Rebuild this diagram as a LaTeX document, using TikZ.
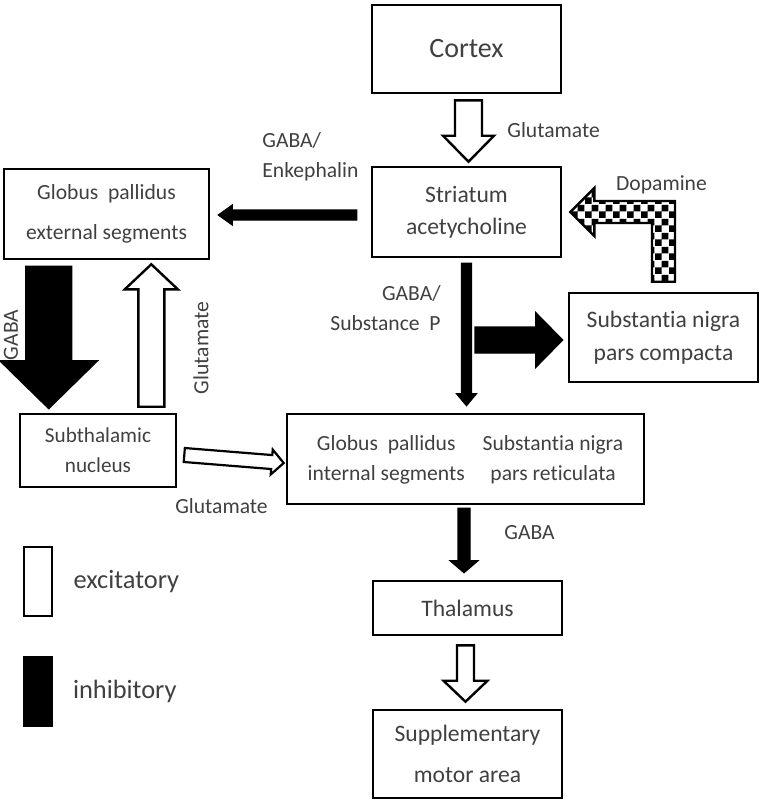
\documentclass[tikz,border=0pt]{standalone}
\usepackage{fontspec}
\setmainfont{Carlito}[Ligatures=NoCommon]
\usepackage{tikz}
\usetikzlibrary{calc,positioning,patterns}
\definecolor{txt}{RGB}{64,64,64}
\pgfdeclarepatternformonly{dopachecks}{\pgfpointorigin}{\pgfqpoint{6.8pt}{6.8pt}}{\pgfqpoint{6.8pt}{6.8pt}}{%
  \pgfpathrectangle{\pgfpointorigin}{\pgfqpoint{3.4pt}{3.4pt}}%
  \pgfpathrectangle{\pgfqpoint{3.4pt}{3.4pt}}{\pgfqpoint{3.4pt}{3.4pt}}%
  \pgfusepath{fill}}

\begin{document}
\begin{tikzpicture}[x=0.5pt, y=-0.5pt,
  box/.style={draw, line width=1.3pt, inner sep=0pt, align=center, text=txt},
  lbl/.style={text=txt, inner sep=0pt, font=\fontsize{10.8}{15}\selectfont},
  excit/.style={draw, line width=1.2pt, fill=white, line join=miter},
  inhib/.style={draw, line width=0.6pt, fill=black, line join=miter},
  dopa/.style={draw, line width=1.2pt, pattern=dopachecks, line join=miter},
  % block arrow: shaft width, head width, head length
  blockarrow/.style n args={3}{to path={
    let \p1=(\tikztostart), \p2=(\tikztotarget), \p3=($(\p2)!#3!(\p1)$) in
    ($(\p1)!#1/2!90:(\p2)$) -- ($(\p3)!#1/2!90:(\p2)$) -- ($(\p3)!#2/2!90:(\p2)$)
    -- (\p2) -- ($(\p3)!#2/2!-90:(\p2)$) -- ($(\p3)!#1/2!-90:(\p2)$)
    -- ($(\p1)!#1/2!-90:(\p2)$) -- cycle}}]
\useasboundingbox (0,0) rectangle (760,804);

% boxes
\node[box, minimum width=94.5pt, minimum height=44pt, font=\fontsize{14}{17}\selectfont] (cortex) at (466.5,49) {Cortex};
\node[box, minimum width=94.5pt, minimum height=45pt, font=\fontsize{11.8}{16}\selectfont] (striatum) at (466.5,212) {Striatum\\acetycholine};
\node[box, minimum width=94.5pt, minimum height=44.5pt, font=\fontsize{11.8}{16.5}\selectfont] (snc) at (663.5,337.5) {Substantia nigra\\pars compacta};
\node[box, minimum width=102.5pt, minimum height=45pt, font=\fontsize{10.8}{20}\selectfont] (gpe) at (106.5,214) {Globus~ pallidus\\external segments};
\node[box, minimum width=78pt, minimum height=36.5pt, font=\fontsize{10.6}{15}\selectfont] (stn) at (98,450.5) {Subthalamic\\nucleus};
\node[box, minimum width=178.5pt, minimum height=45pt, font=\fontsize{10.8}{15}\selectfont] (gpi) at (465.5,459)
  {\raisebox{3pt}{\begin{tabular}{@{}c@{\hspace{9pt}}c@{}}Globus~ pallidus & Substantia nigra\\internal segments & pars reticulata\end{tabular}}};
\node[box, minimum width=94.5pt, minimum height=27pt, font=\fontsize{11.8}{15}\selectfont] (thal) at (467.5,608) {Thalamus};
\node[box, minimum width=94.5pt, minimum height=44pt, font=\fontsize{11.8}{20.5}\selectfont] (sma) at (467.5,754) {Supplementary\\motor area};

% pathways
\draw[excit, blockarrow={13.5pt}{25.5pt}{13pt}] ($(cortex.south)+(1pt,-3pt)$) to ($(cortex.south |- striatum.north)+(1pt,2pt)$);
\draw[inhib, blockarrow={5pt}{10pt}{7pt}] ($(striatum.west |- gpe.east)+(-7pt,-0.5pt)$) to ($(gpe.east)+(4pt,-0.5pt)$);
\draw[inhib, blockarrow={5pt}{10pt}{6pt}] ($(striatum.south)+(0pt,-2.5pt)$) to ($(striatum.south |- gpi.north)+(0pt,3.5pt)$);
\coordinate (branch) at ($(striatum.south |- snc.west)+(4.25pt,-1.25pt)$);
\draw[inhib, blockarrow={13pt}{27.5pt}{13.5pt}] (branch) to ($(snc.west |- branch)+(-2.5pt,0pt)$);
\draw[dopa] let \p1=(snc.north), \p2=(striatum.east) in
  (\x1-5.75pt,\y1+5pt) -- (\x1+5.75pt,\y1+5pt) -- (\x1+5.75pt,\y2+5.5pt) -- (\x2+16pt,\y2+5.5pt)
  -- (\x2+16pt,\y2+12pt) -- (\x2+4pt,\y2) -- (\x2+16pt,\y2-12pt) -- (\x2+16pt,\y2-5.5pt)
  -- (\x1-5.75pt,\y2-5.5pt) -- cycle;
\draw[inhib, blockarrow={23pt}{49pt}{24pt}] ($(gpe.south west)+(23pt,-3pt)$) to ($(gpe.south west |- stn.north)+(23pt,2pt)$);
\draw[excit, blockarrow={13pt}{26.5pt}{12.5pt}] ($(stn.north east)+(-13pt,3pt)$) to ($(stn.north east |- gpe.south)+(-13pt,-2pt)$);
\draw[excit, line width=1.1pt, blockarrow={7pt}{12.5pt}{6pt}] ($(stn.east)+(3.5pt,-2.25pt)$) to ($(gpi.west)+(-1pt,-2pt)$);
\draw[inhib, blockarrow={6pt}{14pt}{6pt}] ($(gpi.south)+(-0.75pt,-1.5pt)$) to ($(gpi.south |- thal.north)+(-0.75pt,3.5pt)$);
\draw[excit, blockarrow={8.5pt}{22pt}{10.5pt}] ($(thal.south)+(-1pt,-4.5pt)$) to ($(thal.south |- sma.north)+(-1pt,3.5pt)$);

% transmitters
\node[lbl, anchor=west] (glutop) at (507,130) {Glutamate};
\node[lbl, anchor=west, align=left] (enk) at (262,157) {GABA/\\Enkephalin};
\node[lbl] (dopamine) at (661.5,185) {Dopamine};
\node[lbl, anchor=east, align=right] (subp) at (441,308) {GABA/\\Substance~ P};
\node[lbl, rotate=90] (gabaleft) at (11,335) {GABA};
\node[lbl, rotate=90] (glumid) at (201,348) {Glutamate};
\node[lbl] (glubot) at (221.5,506) {Glutamate};
\node[lbl] (gababot) at (529.5,533) {GABA};

% key
\node[excit, minimum width=14pt, minimum height=34.5pt, inner sep=0pt] (keyexc) at (38,581.5) {};
\node[right=10pt of keyexc, text=txt, inner sep=0pt, font=\fontsize{13.2}{16}\selectfont] (keyexctxt) {excitatory};
\node[inhib, minimum width=14pt, minimum height=34.5pt, inner sep=0pt] (keyinh) at (38,691.5) {};
\node[right=10pt of keyinh, text=txt, inner sep=0pt, font=\fontsize{13.2}{16}\selectfont] (keyinhtxt) {inhibitory};
\end{tikzpicture}
\end{document}
